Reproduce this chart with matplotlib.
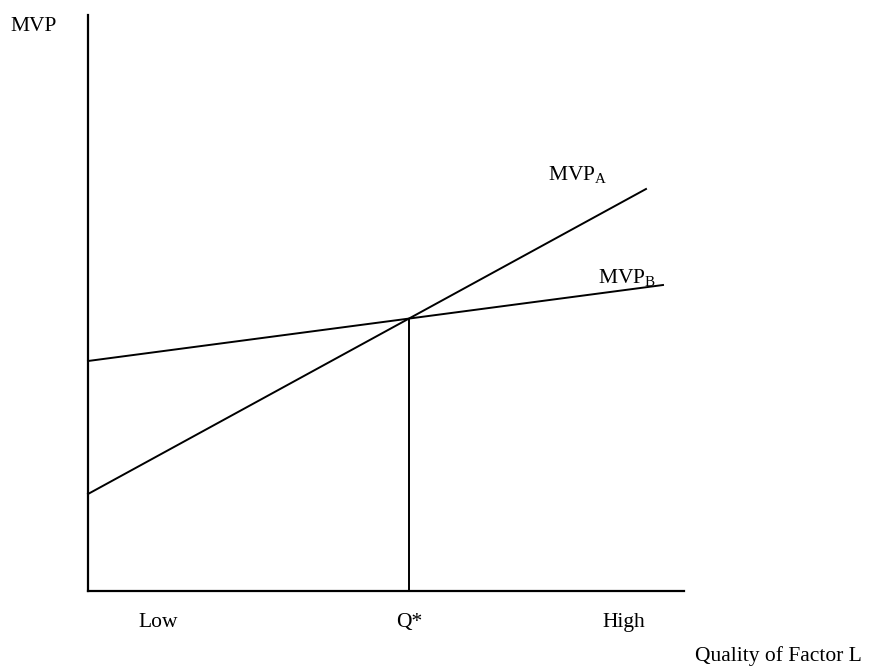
# MVP curves for two uses of a factor, crossing at Q*

import matplotlib.pyplot as plt

# Line endpoints (x from the vertical axis, y up from the horizontal axis)
mvp_a_x = [0, 558]
mvp_a_y = [97, 402]
mvp_b_x = [0, 575]
mvp_b_y = [230, 306]

# Crossing point
q_star_x = 321
q_star_y = 272.5

# Axis extent
x_max = 596
y_max = 576

tick_pos = [70, 321, 536]
tick_labels = ['Low', 'Q*', 'High']

plt.rcParams['font.family'] = ['Liberation Serif', 'DejaVu Serif']
plt.rcParams['mathtext.fontset'] = 'custom'
plt.rcParams['mathtext.rm'] = 'Liberation Serif'
plt.rcParams['mathtext.it'] = 'Liberation Serif'

fig = plt.figure(figsize=(8.75, 6.68), dpi=100)
W, H = 875, 668
ax = fig.add_axes([88/W, (H-591)/H, x_max/W, y_max/H])
ax.set_xlim(0, x_max)
ax.set_ylim(0, y_max)
ax.axis('off')

# Axes
ax.plot([0, 0], [0, y_max], color='black', lw=1.6, clip_on=False)
ax.plot([0, x_max], [0, 0], color='black', lw=1.6, clip_on=False)

# Curves
ax.plot(mvp_a_x, mvp_a_y, color='black', lw=1.4, clip_on=False)
ax.plot(mvp_b_x, mvp_b_y, color='black', lw=1.4, clip_on=False)
ax.plot([q_star_x, q_star_x], [0, q_star_y], color='black', lw=1.4, clip_on=False)

fs = 15.5
for xp, lab in zip(tick_pos, tick_labels):
    ax.text(xp, -36, lab, ha='center', va='baseline', fontsize=fs)

ax.text(-78, 560, 'MVP', ha='left', va='baseline', fontsize=fs)
ax.text(460, 411, r'MVP$_{\mathrm{A}}$', ha='left', va='baseline', fontsize=fs)
ax.text(510, 308, r'MVP$_{\mathrm{B}}$', ha='left', va='baseline', fontsize=fs)
ax.text(774, -70, 'Quality of Factor L', ha='right', va='baseline', fontsize=fs)

fig.savefig('out.png', dpi=100)
